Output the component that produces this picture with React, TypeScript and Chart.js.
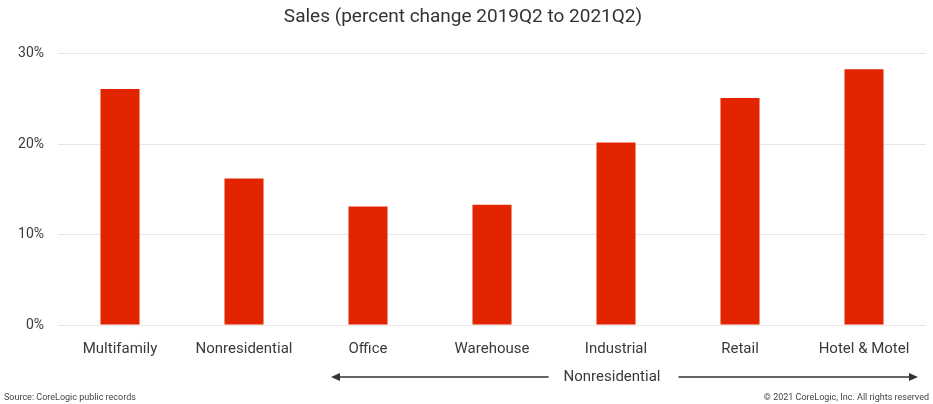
import React, { useEffect, useRef } from "react";
import { Chart, registerables } from "chart.js";

Chart.register(...registerables);

const titleText = "Sales (percent change 2019Q2 to 2021Q2)";
const categories = ["Multifamily", "Nonresidential", "Office", "Warehouse", "Industrial", "Retail", "Hotel & Motel"];
const salesChange = [26.1, 16.2, 13.1, 13.3, 20.2, 25.1, 28.3];
const yTicks = [0, 10, 20, 30];
const groupLabel = "Nonresidential";
const sourceText = "Source: CoreLogic public records";
const copyrightText = "© 2021 CoreLogic, Inc. All rights reserved";

const FONT = "'Roboto', 'Open Sans', sans-serif";
const TEXT = "#3a3a3a";

const annotationPlugin = {
  id: "annot",
  afterDraw(chart: any) {
    const ctx = chart.ctx;
    const x = chart.scales.x;
    const y0 = 377;
    ctx.save();
    const left = x.getPixelForValue(2) - 37;
    const right = x.getPixelForValue(6) + 54;
    const mid = x.getPixelForValue(4) - 4;
    ctx.font = `15px ${FONT}`;
    ctx.fillStyle = TEXT;
    ctx.textAlign = "center";
    ctx.textBaseline = "middle";
    ctx.fillText(groupLabel, mid, y0);
    const tw = ctx.measureText(groupLabel).width;
    ctx.strokeStyle = "#333";
    ctx.fillStyle = "#333";
    ctx.lineWidth = 1.6;
    const l2 = mid - tw / 2 - 15;
    const r1 = mid + tw / 2 + 18;
    ctx.beginPath();
    ctx.moveTo(left + 6, y0);
    ctx.lineTo(l2, y0);
    ctx.moveTo(r1, y0);
    ctx.lineTo(right - 6, y0);
    ctx.stroke();
    ctx.beginPath();
    ctx.moveTo(left, y0);
    ctx.lineTo(left + 9, y0 - 4);
    ctx.lineTo(left + 9, y0 + 4);
    ctx.closePath();
    ctx.fill();
    ctx.beginPath();
    ctx.moveTo(right, y0);
    ctx.lineTo(right - 9, y0 - 4);
    ctx.lineTo(right - 9, y0 + 4);
    ctx.closePath();
    ctx.fill();
    ctx.font = `9px ${FONT}`;
    ctx.fillStyle = "#444";
    ctx.textBaseline = "middle";
    ctx.textAlign = "left";
    ctx.fillText(sourceText, 4, 398);
    ctx.textAlign = "right";
    ctx.fillText(copyrightText, 929, 398);
    ctx.restore();
  },
};

export default function App() {
  const ref = useRef<HTMLCanvasElement | null>(null);
  useEffect(() => {
    document.body.style.margin = "0";
    const chart = new Chart(ref.current as HTMLCanvasElement, {
      type: "bar",
      data: {
        labels: categories,
        datasets: [
          {
            data: salesChange,
            backgroundColor: "#e32400",
            borderWidth: 0,
            barPercentage: 0.63,
            categoryPercentage: 0.5,
          },
        ],
      },
      options: {
        responsive: false,
        animation: false,
        layout: { padding: { top: 6, right: 7, bottom: 31, left: 0 } },
        plugins: {
          legend: { display: false },
          tooltip: { enabled: false },
          title: {
            display: true,
            text: titleText,
            color: "#333",
            font: { family: FONT, size: 19, weight: "normal" },
            padding: { top: 0, bottom: 25 },
          },
        },
        scales: {
          x: {
            grid: { display: false, drawTicks: false },
            border: { display: false },
            ticks: {
              color: TEXT,
              font: { family: FONT, size: 15 },
              padding: 15,
              maxRotation: 0,
              autoSkip: false,
            },
          },
          y: {
            min: 0,
            max: 30,
            afterBuildTicks: (s: any) => {
              s.ticks = yTicks.map((v) => ({ value: v }));
            },
            afterFit: (s: any) => {
              s.width = 58;
            },
            grid: { color: "#e6e6e6", drawTicks: false, lineWidth: 1 },
            border: { display: false },
            ticks: {
              color: TEXT,
              font: { family: FONT, size: 14 },
              padding: 14,
              callback: (v: any) => `${v}%`,
            },
          },
        },
      },
      plugins: [annotationPlugin],
    });
    return () => chart.destroy();
  }, []);
  return (
    <div style={{ position: "fixed", left: 0, top: 0, width: 933, height: 404, background: "#fff" }}>
      <canvas ref={ref} width={933} height={404} />
    </div>
  );
}
